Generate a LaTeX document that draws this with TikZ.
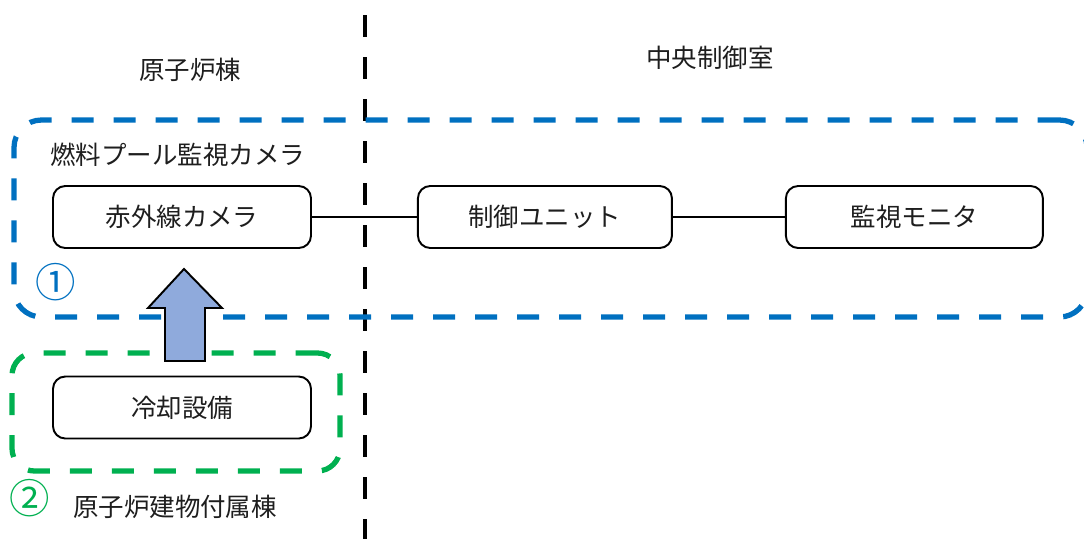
\documentclass[tikz,border=0pt]{standalone}
\usepackage{fontspec}
\setmainfont{Noto Sans CJK JP}
\usepackage{xcolor}
\usepackage{tikz}
\usetikzlibrary{positioning,calc}
\definecolor{poolblue} {RGB}{0,112,192}
\definecolor{coolgreen}{RGB}{0,176,80}
\definecolor{arrowfill}{RGB}{143,170,220}
\definecolor{txtgray}  {RGB}{30,30,30}
\tikzset{
  unitbox/.style ={draw, rounded corners=7pt, line width=1.1pt, align=center,
                   minimum height=1.24cm, minimum width=#1,
                   font=\fontsize{14.5}{17}\selectfont, text=txtgray, inner sep=2pt},
  unitbox/.default=5.16cm,
  areabox/.style ={rounded corners=#1, line width=3pt,
                   dash pattern=on 0.44cm off 0.4cm, inner sep=0pt},
  poolbox/.style ={areabox=0.55cm, draw=poolblue,
                   minimum width=21.46cm, minimum height=3.94cm},
  coolbox/.style ={areabox=0.45cm, draw=coolgreen,
                   minimum width=6.56cm, minimum height=2.36cm},
  lbl/.style     ={font=\fontsize{14.5}{17}\selectfont, text=txtgray, inner sep=0pt},
  numlbl/.style  ={font=\fontsize{23}{25}\selectfont, inner sep=0pt},
  wall/.style    ={line width=2.6pt, dash pattern=on 0.44cm off 0.4cm},
  link/.style    ={line width=1.1pt},
  blockarr/.style={draw, line width=1.1pt, fill=arrowfill, line join=miter},
}
\begin{document}
\begin{tikzpicture}
  \useasboundingbox (0,0) rectangle (21.68,-10.76);

  % building wall
  \coordinate (walltop) at (7.3,-0.3);
  \coordinate (wallbot) at (7.3,-10.8);
  \draw[wall] (walltop) -- (wallbot);

  \node[lbl] (rb)  at (3.8,-1.4)   {原子炉棟};
  \node[lbl] (mcr) at (14.2,-1.16) {中央制御室};

  % monitoring system
  \node[poolbox] (pool) at (11.01,-4.37) {};
  \node[lbl, anchor=west] (pooltitle) at (1.0,-3.1) {燃料プール監視カメラ};
  \node[unitbox] (ir) at (3.64,-4.34) {赤外線カメラ};
  \node[unitbox=5.08cm, right=2.1cm of ir] (ctrl) {制御ユニット};
  \node[unitbox=5.14cm, right=2.24cm of ctrl] (mon) {監視モニタ};
  \node[numlbl, text=poolblue] (n1) at (1.12,-5.64) {①};

  % cooling equipment
  \node[coolbox] (cool) at (3.52,-8.24) {};
  \node[unitbox] (cooler) at (3.64,-8.15) {冷却設備};
  \node[numlbl, text=coolgreen] (n2) at (0.6,-9.96) {②};
  \node[lbl] (annex) at (3.5,-10.14) {原子炉建物付属棟};

  \draw[link] (ir) -- (ctrl);
  \draw[link] (ctrl) -- (mon);

  % block arrow cooler -> camera
  \coordinate (tip) at ($(ir.south)+(0.04,-0.4)$);
  \draw[blockarr] (tip) -- ++(0.76,-0.78) -- ++(-0.34,0) -- ++(0,-1.06)
    -- ++(-0.8,0) -- ++(0,1.06) -- ++(-0.34,0) -- cycle;
\end{tikzpicture}
\end{document}
